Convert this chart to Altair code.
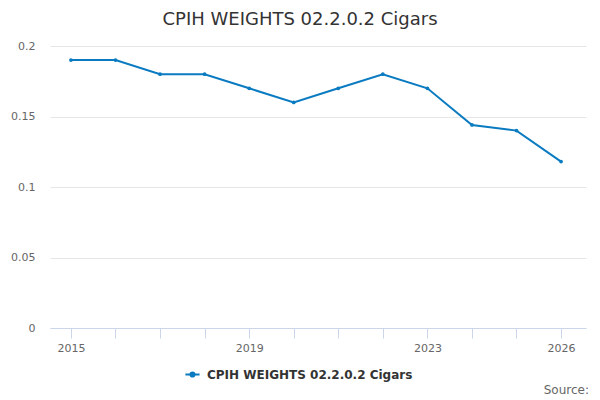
import altair as alt
import pandas as pd

years = [2015, 2016, 2017, 2018, 2019, 2020, 2021, 2022, 2023, 2024, 2025, 2026]
values = [0.19, 0.19, 0.18, 0.18, 0.17, 0.16, 0.17, 0.18, 0.17, 0.144, 0.14, 0.118]
series_name = "CPIH WEIGHTS 02.2.0.2 Cigars"
label_years = [2015, 2019, 2023, 2026]
y_ticks = [0, 0.05, 0.1, 0.15, 0.2]

df = pd.DataFrame({"year": years, "value": values, "series": series_name})

FONT = "DejaVu Sans"
LINE_COLOR = "#0a7bc1"

label_test = " || ".join(f"datum.value == {y}" for y in label_years)

base = alt.Chart(df).encode(
    x=alt.X(
        "year:Q",
        scale=alt.Scale(domain=[2014.53, 2026.56], nice=False, zero=False),
        axis=alt.Axis(
            values=years,
            labelExpr=f"({label_test}) ? datum.label : ''",
            format="d",
            title=None,
            grid=False,
            domainColor="#ccd6eb",
            tickColor="#ccd6eb",
            tickSize=10,
            labelColor="#666666",
            labelFont=FONT,
            labelFontSize=11,
            labelPadding=4,
            labelFlush=False,
        ),
    ),
    y=alt.Y(
        "value:Q",
        scale=alt.Scale(domain=[0, 0.2], nice=False),
        axis=alt.Axis(
            values=y_ticks,
            format="~g",
            title=None,
            domain=False,
            ticks=False,
            gridColor="#e6e6e6",
            labelColor="#666666",
            labelFont=FONT,
            labelFontSize=11,
            labelPadding=15,
        ),
    ),
    color=alt.Color(
        "series:N",
        scale=alt.Scale(range=[LINE_COLOR]),
        legend=alt.Legend(
            title=None,
            orient="none",
            legendX=134,
            legendY=320,
            symbolType="M-1,0H1M-0.3,0a0.3,0.3 0 1,0 0.6,0a0.3,0.3 0 1,0 -0.6,0",
            symbolSize=200,
            symbolStrokeWidth=2,
            symbolFillColor=LINE_COLOR,
            labelFont=FONT,
            labelFontSize=12,
            labelFontWeight="bold",
            labelColor="#333333",
            labelOffset=6,
            labelLimit=400,
        ),
    ),
)

line = base.mark_line(strokeWidth=2)
points = base.mark_point(filled=True, size=14, opacity=1)

source = alt.Chart(pd.DataFrame({"t": ["Source:"]})).mark_text(
    align="right", baseline="middle", font=FONT, fontSize=12, color="#666666"
).encode(text="t:N", x=alt.value(539), y=alt.value(344))

chart = (
    alt.layer(line, points, source)
    .properties(
        width=536,
        height=282,
        padding={"left": 42, "top": 38, "right": 6, "bottom": 70},
        autosize=alt.AutoSizeParams(type="none"),
        title=alt.TitleParams(
            series_name,
            anchor="middle",
            font=FONT,
            fontSize=18,
            fontWeight="normal",
            color="#333333",
            offset=11,
            dx=-18,
        ),
    )
    .configure_view(stroke=None)
)

chart.save("out.html", embed_options={"renderer": "svg", "actions": False})
